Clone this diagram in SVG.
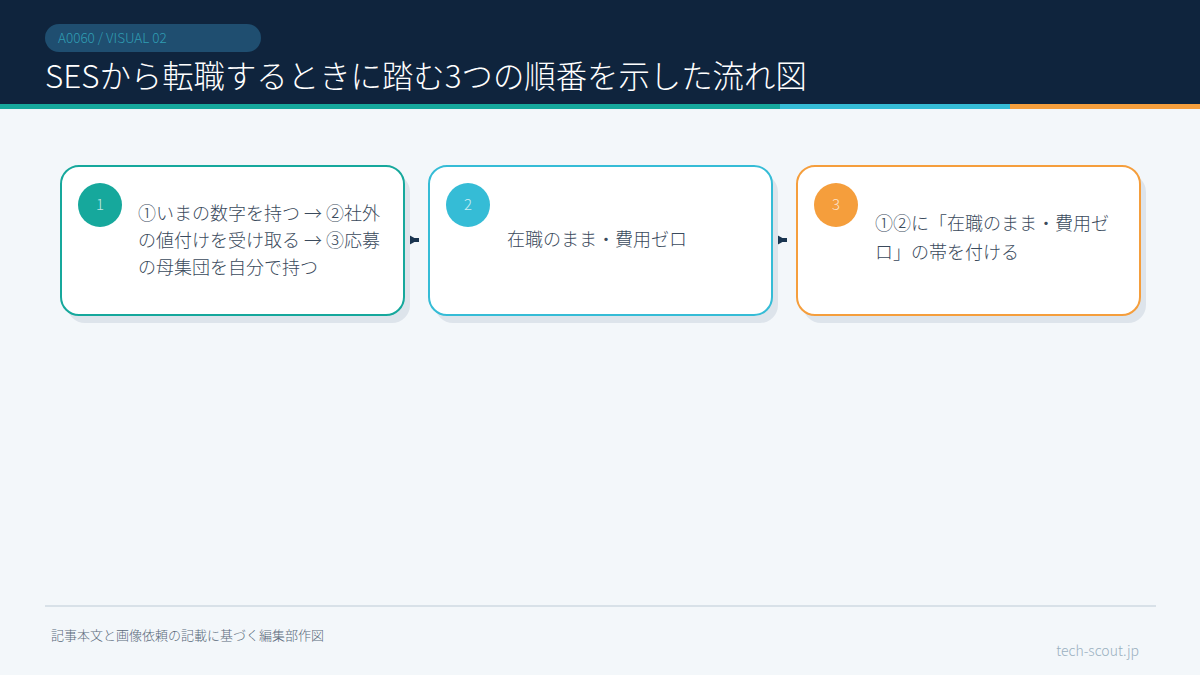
<svg xmlns="http://www.w3.org/2000/svg" width="1200" height="675" viewBox="0 0 1200 675">
<style>
.jp{font-family:"Noto Sans CJK JP","Noto Sans",sans-serif;}
.body{font-size:18px;fill:#3a4a5c;font-weight:300;}
.num{font-size:15px;fill:#ffffff;fill-opacity:0.75;font-weight:300;text-anchor:middle;}
.shadow{fill:#dde4eb;}
.card{fill:#ffffff;stroke-width:2;}
.conn{stroke:#1a3550;stroke-width:4;fill:none;}
</style>
<defs>
<marker id="arr" viewBox="0 0 9 10" refX="0" refY="5" markerWidth="9" markerHeight="10" orient="auto" markerUnits="userSpaceOnUse">
<path d="M0,0 L9,5 L0,10 Z" fill="#1a3550"/>
</marker>
</defs>
<rect width="1200" height="675" fill="#f3f7fa"/>
<g id="header">
<rect x="0" y="0" width="1200" height="104" fill="#0f243d"/>
<rect x="0" y="104" width="780" height="5" fill="#16a89c"/>
<rect x="780" y="104" width="230" height="5" fill="#35bcd6"/>
<rect x="1010" y="104" width="190" height="5" fill="#f59e3c"/>
<rect x="45" y="24" width="216" height="28" rx="14" fill="#1f4e70"/>
<text x="58" y="43" class="jp" font-size="13.5" font-weight="300" fill="#2f9db3">A0060 / VISUAL 02</text>
<text x="45" y="88" class="jp" font-size="31.4" font-weight="300" fill="#ffffff">SESから転職するときに踏む3つの順番を示した流れ図</text>
</g>
<g id="connectors">
<path class="conn" d="M409 240 L419 240" marker-start="url(#arr)"/>
<path class="conn" d="M777 240 L787 240" marker-start="url(#arr)"/>
</g>
<g id="node1">
<rect class="shadow" x="67" y="174" width="343" height="149" rx="18"/>
<rect class="card" x="61" y="166" width="343" height="149" rx="18" stroke="#16a89c"/>
<circle cx="100" cy="205" r="22" fill="#16a89c"/>
<text x="100" y="210" class="jp num">1</text>
<text class="jp body"><tspan x="138" y="220">①いまの数字を持つ → ②社外</tspan><tspan x="138" y="247">の値付けを受け取る → ③応募</tspan><tspan x="138" y="274">の母集団を自分で持つ</tspan></text>
</g>
<g id="node2">
<rect class="shadow" x="435" y="174" width="343" height="149" rx="18"/>
<rect class="card" x="429" y="166" width="343" height="149" rx="18" stroke="#35bcd6"/>
<circle cx="468" cy="205" r="22" fill="#35bcd6"/>
<text x="468" y="210" class="jp num">2</text>
<text x="507" y="246" class="jp body">在職のまま・費用ゼロ</text>
</g>
<g id="node3">
<rect class="shadow" x="803" y="174" width="343" height="149" rx="18"/>
<rect class="card" x="797" y="166" width="343" height="149" rx="18" stroke="#f59e3c"/>
<circle cx="836" cy="205" r="22" fill="#f59e3c"/>
<text x="836" y="210" class="jp num">3</text>
<text class="jp body"><tspan x="875" y="230">①②に「在職のまま・費用ゼ</tspan><tspan x="875" y="259">ロ」の帯を付ける</tspan></text>
</g>
<g id="footer">
<rect x="45" y="605" width="1111" height="2" fill="#d8e1e8"/>
<text x="51" y="640" class="jp" font-size="13" font-weight="300" fill="#5a6a7a">記事本文と画像依頼の記載に基づく編集部作図</text>
<text x="1139" y="656" class="jp" font-size="14" font-weight="300" fill="#9ab0c0" text-anchor="end">tech-scout.jp</text>
</g>
</svg>
